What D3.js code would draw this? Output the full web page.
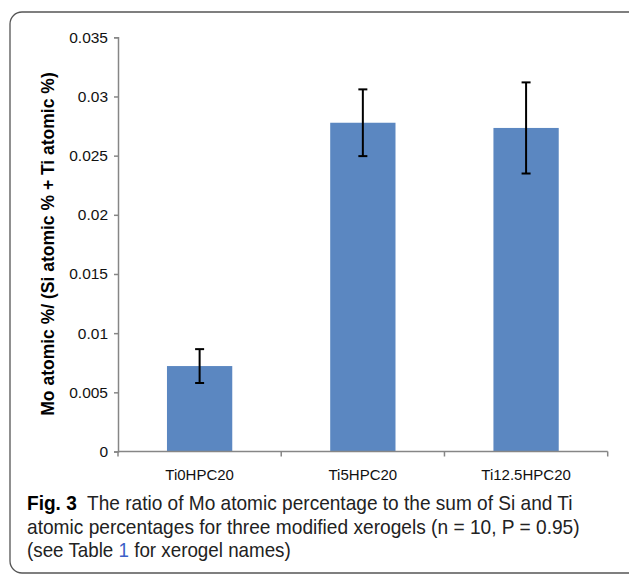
<!DOCTYPE html>
<html>
<head>
<meta charset="utf-8">
<script src="https://cdn.jsdelivr.net/npm/d3@7"></script>
<style>
  body { margin: 0; background: #fff; }
  svg { display: block; }
</style>
</head>
<body>
<div id="chart"></div>
<script>
// data
var categories = ["Ti0HPC20", "Ti5HPC20", "Ti12.5HPC20"];
var means = [0.00722, 0.02778, 0.02734];
var errors = [0.00143, 0.00282, 0.00385];
var yTicks = [0, 0.005, 0.01, 0.015, 0.02, 0.025, 0.03, 0.035];
var yLabel = "Mo atomic %/ (Si atomic % + Ti atomic %)";

var W = 629, H = 578;
var margin = {top: 37.3, right: 21.3, bottom: 126.5, left: 118};
var width = W - margin.left - margin.right,
    height = H - margin.top - margin.bottom;

var svg = d3.select("#chart").append("svg")
  .attr("width", W)
  .attr("height", H);

// rounded frame around the figure
svg.append("rect")
  .attr("x", 10).attr("y", 12)
  .attr("width", 640).attr("height", 561)
  .attr("rx", 12).attr("ry", 12)
  .attr("fill", "none")
  .attr("stroke", "#555")
  .attr("stroke-width", 1.3);

var g = svg.append("g")
  .attr("transform", "translate(" + margin.left + "," + margin.top + ")");

var x = d3.scaleBand()
  .domain(categories)
  .range([0, width])
  .padding(0);

var y = d3.scaleLinear()
  .domain([0, 0.035])
  .range([height, 0]);

// Y axis
var yAxis = g.append("g")
  .call(d3.axisLeft(y).tickValues(yTicks).tickSize(4).tickPadding(6)
    .tickFormat(function(d) { return d === 0 ? "0" : String(+d.toFixed(3)); }));
yAxis.select(".domain").attr("stroke", "#868686").attr("stroke-width", 1.5);
yAxis.selectAll(".tick line").attr("stroke", "#868686").attr("stroke-width", 1.5);
yAxis.selectAll("text")
  .attr("fill", "#111")
  .style("font-family", "'Liberation Sans', Arial, sans-serif")
  .style("font-size", "15.5px");

// bars
var barW = x.bandwidth() * 0.4;
g.selectAll(".bar")
  .data(categories)
  .enter().append("rect")
  .attr("class", "bar")
  .attr("x", function(d) { return x(d) + (x.bandwidth() - barW) / 2; })
  .attr("y", function(d, i) { return y(means[i]); })
  .attr("width", barW)
  .attr("height", function(d, i) { return height - y(means[i]); })
  .attr("fill", "#5b87c1");

// X axis (ticks at category boundaries)
var xAxisG = g.append("g").attr("transform", "translate(0," + height + ")");
xAxisG.append("line")
  .attr("x1", 0).attr("x2", width)
  .attr("stroke", "#868686").attr("stroke-width", 1.5);
var bounds = categories.map(function(d) { return x(d); }).concat([width]);
xAxisG.selectAll(".xtick")
  .data(bounds)
  .enter().append("line")
  .attr("x1", function(d) { return d; })
  .attr("x2", function(d) { return d; })
  .attr("y1", 0).attr("y2", 5)
  .attr("stroke", "#868686").attr("stroke-width", 1.5);
xAxisG.selectAll(".xlabel")
  .data(categories)
  .enter().append("text")
  .attr("x", function(d) { return x(d) + x.bandwidth() / 2; })
  .attr("y", 28)
  .attr("text-anchor", "middle")
  .attr("fill", "#111")
  .style("font-family", "'Liberation Sans', Arial, sans-serif")
  .style("font-size", "15px")
  .text(function(d) { return d; });

// error bars
var capW = 9;
var eb = g.selectAll(".err")
  .data(categories)
  .enter().append("g")
  .attr("class", "err")
  .attr("stroke", "#000")
  .attr("stroke-width", 2);
eb.append("line")
  .attr("x1", function(d) { return x(d) + x.bandwidth() / 2; })
  .attr("x2", function(d) { return x(d) + x.bandwidth() / 2; })
  .attr("y1", function(d, i) { return y(means[i] + errors[i]); })
  .attr("y2", function(d, i) { return y(means[i] - errors[i]); });
eb.append("line")
  .attr("x1", function(d) { return x(d) + x.bandwidth() / 2 - capW / 2; })
  .attr("x2", function(d) { return x(d) + x.bandwidth() / 2 + capW / 2; })
  .attr("y1", function(d, i) { return y(means[i] + errors[i]); })
  .attr("y2", function(d, i) { return y(means[i] + errors[i]); });
eb.append("line")
  .attr("x1", function(d) { return x(d) + x.bandwidth() / 2 - capW / 2; })
  .attr("x2", function(d) { return x(d) + x.bandwidth() / 2 + capW / 2; })
  .attr("y1", function(d, i) { return y(means[i] - errors[i]); })
  .attr("y2", function(d, i) { return y(means[i] - errors[i]); });

// Y axis title
svg.append("text")
  .attr("transform", "translate(54,244) rotate(-90)")
  .attr("text-anchor", "middle")
  .attr("fill", "#000")
  .style("font-family", "'Liberation Sans', Arial, sans-serif")
  .style("font-size", "17.5px")
  .style("font-weight", "bold")
  .text(yLabel);

// caption: each line squeezed horizontally to the width in the figure
var cap = svg.append("g")
  .style("font-family", "'Liberation Sans Narrow', 'Liberation Sans', Arial, sans-serif")
  .style("font-size", "20px")
  .attr("fill", "#222");

function fitLine(sel, x0, y0, w) {
  var len = sel.node().getComputedTextLength();
  sel.attr("transform", "translate(" + x0 + "," + y0 + ") scale(" + (w / len) + ",1)");
}

var l1 = cap.append("text");
l1.append("tspan").style("font-weight", "bold").attr("fill", "#000").text("Fig. 3");
l1.append("tspan").text("\u00a0 The ratio of Mo atomic percentage to the sum of Si and Ti");
fitLine(l1, 27, 510, 546);

var l2 = cap.append("text")
  .text("atomic percentages for three modified xerogels (n = 10, P = 0.95)");
fitLine(l2, 27, 534, 553);

var l3 = cap.append("text");
l3.append("tspan").text("(see Table ");
l3.append("tspan").attr("fill", "#3c5fc8").text("1");
l3.append("tspan").text(" for xerogel names)");
fitLine(l3, 27, 557, 264);
</script>
</body>
</html>
